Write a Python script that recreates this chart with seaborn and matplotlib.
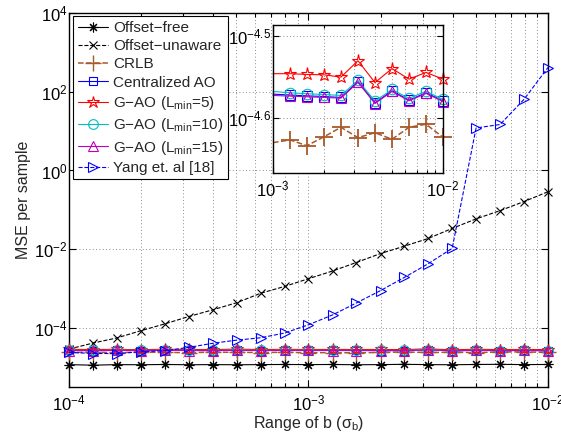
import numpy as np
import pandas as pd
import matplotlib
matplotlib.use("Agg")
import matplotlib.pyplot as plt
import matplotlib.ticker as mticker
import seaborn as sns

# ---------------- data ----------------
x_b = [1.0e-4, 1.26e-4, 1.58e-4, 2.0e-4, 2.51e-4, 3.16e-4, 3.98e-4, 5.01e-4, 6.31e-4, 7.94e-4,
       1.0e-3, 1.26e-3, 1.58e-3, 2.0e-3, 2.51e-3, 3.16e-3, 3.98e-3, 5.01e-3, 6.31e-3, 7.94e-3, 1.0e-2]

offset_free = [1.17e-5, 1.13e-5, 1.17e-5, 1.16e-5, 1.18e-5, 1.16e-5, 1.17e-5, 1.16e-5, 1.17e-5, 1.18e-5,
               1.17e-5, 1.18e-5, 1.16e-5, 1.17e-5, 1.19e-5, 1.17e-5, 1.16e-5, 1.18e-5, 1.19e-5, 1.17e-5, 1.18e-5]
offset_unaware = [2.90e-5, 4.13e-5, 5.55e-5, 8.53e-5, 1.265e-4, 1.945e-4, 2.88e-4, 4.36e-4, 7.59e-4, 1.13e-3,
                  1.78e-3, 2.79e-3, 4.57e-3, 7.76e-3, 1.19e-2, 1.87e-2, 3.37e-2, 5.89e-2, 9.55e-2, 0.162, 0.288]
crlb = [2.38e-5, 2.41e-5, 2.36e-5, 2.43e-5, 2.39e-5, 2.35e-5, 2.42e-5, 2.40e-5, 2.37e-5, 2.41e-5,
        2.344e-5, 2.362e-5, 2.324e-5, 2.383e-5, 2.447e-5, 2.377e-5, 2.410e-5, 2.366e-5, 2.447e-5, 2.468e-5, 2.379e-5]
central_ao = [2.68e-5, 2.66e-5, 2.69e-5, 2.67e-5, 2.70e-5, 2.68e-5, 2.66e-5, 2.71e-5, 2.67e-5, 2.69e-5,
              2.685e-5, 2.678e-5, 2.672e-5, 2.667e-5, 2.66e-5, 2.78e-5, 2.62e-5, 2.71e-5, 2.64e-5, 2.695e-5, 2.635e-5]
gao_5 = [2.85e-5, 2.83e-5, 2.86e-5, 2.80e-5, 2.88e-5, 2.84e-5, 2.82e-5, 2.90e-5, 2.83e-5, 2.86e-5,
         2.843e-5, 2.843e-5, 2.837e-5, 2.834e-5, 2.816e-5, 2.948e-5, 2.773e-5, 2.884e-5, 2.800e-5, 2.853e-5, 2.800e-5]
gao_10 = [2.70e-5, 2.68e-5, 2.71e-5, 2.69e-5, 2.72e-5, 2.70e-5, 2.68e-5, 2.73e-5, 2.69e-5, 2.71e-5,
          2.705e-5, 2.695e-5, 2.688e-5, 2.682e-5, 2.675e-5, 2.79e-5, 2.633e-5, 2.72e-5, 2.653e-5, 2.707e-5, 2.645e-5]
gao_15 = [2.67e-5, 2.65e-5, 2.68e-5, 2.66e-5, 2.69e-5, 2.67e-5, 2.65e-5, 2.70e-5, 2.66e-5, 2.68e-5,
          2.675e-5, 2.67e-5, 2.665e-5, 2.66e-5, 2.655e-5, 2.775e-5, 2.615e-5, 2.705e-5, 2.635e-5, 2.69e-5, 2.63e-5]
yang = [2.40e-5, 2.24e-5, 2.24e-5, 2.48e-5, 2.63e-5, 3.20e-5, 4.07e-5, 4.90e-5, 5.62e-5, 7.41e-5,
        1.20e-4, 2.14e-4, 4.27e-4, 8.91e-4, 1.91e-3, 4.27e-3, 1.05e-2, 12.0, 14.7, 64.0, 412.0]

labels = ["Offset\u2212free", "Offset\u2212unaware", "CRLB", "Centralized AO",
          "G\u2212AO (L$_{\\mathrm{min}}$=5)", "G\u2212AO (L$_{\\mathrm{min}}$=10)",
          "G\u2212AO (L$_{\\mathrm{min}}$=15)", "Yang et. al [18]"]
series = [offset_free, offset_unaware, crlb, central_ao, gao_5, gao_10, gao_15, yang]

x_ticks_main = [1e-4, 1e-3, 1e-2]
y_ticks_main = [1e-4, 1e-2, 1e0, 1e2, 1e4]
inset_yticks = [10 ** -4.5, 10 ** -4.6]
inset_ytick_labels = ["$10^{-4.5}$", "$10^{-4.6}$"]
inset_xticks = [1e-3, 1e-2]
inset_xtick_labels = ["$10^{-3}$", "$10^{-2}$"]

# ---------------- styles ----------------
brown = "#A8582A"
styles = [
    dict(color="black", ls="-", marker=(8, 2, 0), ms=7, mew=0.8, lw=0.8),
    dict(color="black", ls="--", marker="x", ms=6, mew=0.8, lw=0.8),
    dict(color=brown, ls="--", marker="+", ms=11, mew=1.0, lw=1.1),
    dict(color="#0000FF", ls="-", marker="s", ms=6, mew=0.8, lw=0.8, mfc="none"),
    dict(color="#FF0000", ls="-", marker="*", ms=9, mew=0.8, lw=0.8, mfc="none"),
    dict(color="#00BFBF", ls="-", marker="o", ms=7, mew=0.8, lw=0.8, mfc="none"),
    dict(color="#BF00BF", ls="-", marker="^", ms=7, mew=0.8, lw=0.8, mfc="none"),
    dict(color="#0000FF", ls="--", marker=">", ms=7, mew=0.8, lw=0.8, mfc="none"),
]

sns.set_theme(style="ticks")
plt.rcParams["font.family"] = ["Liberation Sans", "DejaVu Sans"]
plt.rcParams["mathtext.fontset"] = "custom"
plt.rcParams["mathtext.rm"] = "Liberation Sans"
plt.rcParams["mathtext.it"] = "Liberation Sans:italic"
plt.rcParams["mathtext.default"] = "regular"

FS_TICK = 12
FS_LEG = 11
FS_LAB = 11.5

fig = plt.figure(figsize=(5.61, 4.40), dpi=100)
ax = fig.add_axes([0.123, 0.1205, 0.8538, 0.85])

for lab, ys, st in zip(labels, series, styles):
    df = pd.DataFrame({"x": x_b, "y": ys})
    sns.lineplot(data=df, x="x", y="y", ax=ax, label=lab, color=st["color"],
                 linestyle=st["ls"], marker=st["marker"], markersize=st["ms"],
                 markeredgewidth=st["mew"], linewidth=st["lw"],
                 markerfacecolor=st.get("mfc", st["color"]),
                 markeredgecolor=st["color"], clip_on=False, zorder=3)

ax.set_xscale("log")
ax.set_yscale("log")
ax.set_xlim(1e-4, 1e-2)
ax.set_ylim(10 ** -5.5, 1e4)
ax.set_xticks(x_ticks_main)
ax.set_yticks(y_ticks_main)
ax.yaxis.set_minor_locator(mticker.NullLocator())
ax.xaxis.set_minor_locator(mticker.LogLocator(base=10, subs=np.arange(2, 10)))
ax.xaxis.set_minor_formatter(mticker.NullFormatter())
ax.grid(True, which="major", axis="y", color="0.4", ls=(0, (1, 3)), lw=0.6)
ax.grid(True, which="both", axis="x", color="0.4", ls=(0, (1, 3)), lw=0.6)
ax.tick_params(which="both", direction="in", top=True, right=True, labelsize=FS_TICK,
               colors="black", width=0.8)
ax.tick_params(which="major", length=5)
ax.tick_params(which="minor", length=3)
ax.tick_params(axis="x", pad=5)
ax.tick_params(axis="y", pad=1)
for s in ax.spines.values():
    s.set_color("black")
    s.set_linewidth(1.0)
ax.set_xlabel("Range of b (\u03c3$_{\\mathrm{b}}$)", fontsize=FS_LAB, labelpad=0)
ax.set_ylabel("MSE per sample", fontsize=FS_LAB, labelpad=2)

leg = ax.legend(loc="upper left", bbox_to_anchor=(0.009, 0.991), fontsize=FS_LEG,
                frameon=True, fancybox=False, framealpha=1, edgecolor="black",
                handlelength=2.0, handletextpad=0.3, labelspacing=0.28,
                borderpad=0.3, borderaxespad=0.0)
leg.get_frame().set_linewidth(0.8)
leg.set_zorder(10)

# ---------------- inset ----------------
axin = fig.add_axes([0.4866, 0.6068, 0.3031, 0.3364])
axin.set_facecolor("white")
axin.set_zorder(5)
for idx in [2, 3, 4, 5, 6]:
    st = styles[idx]
    df = pd.DataFrame({"x": x_b[10:], "y": series[idx][10:]})
    sns.lineplot(data=df, x="x", y="y", ax=axin, color=st["color"],
                 linestyle=st["ls"], marker=st["marker"],
                 markersize=st["ms"] + (2 if idx == 2 else 0.5),
                 markeredgewidth=st["mew"] + (0.3 if idx == 2 else 0), linewidth=st["lw"],
                 markerfacecolor=st.get("mfc", st["color"]),
                 markeredgecolor=st["color"], markevery=list(range(1, 11)),
                 clip_on=False, legend=False)
axin.set_xscale("log")
axin.set_yscale("log")
axin.set_xlim(1e-3, 1e-2)
axin.set_ylim(10 ** -4.667, 10 ** -4.487)
axin.set_xticks(inset_xticks)
axin.set_xticklabels(inset_xtick_labels)
axin.set_yticks(inset_yticks)
axin.set_yticklabels(inset_ytick_labels)
axin.yaxis.set_minor_locator(mticker.NullLocator())
axin.xaxis.set_minor_locator(mticker.LogLocator(base=10, subs=np.arange(2, 10)))
axin.xaxis.set_minor_formatter(mticker.NullFormatter())
axin.grid(True, which="major", axis="y", color="0.4", ls=(0, (1, 3)), lw=0.6)
axin.grid(True, which="both", axis="x", color="0.4", ls=(0, (1, 3)), lw=0.6)
axin.tick_params(which="both", direction="in", top=True, right=True, labelsize=FS_TICK,
                 colors="black", width=0.8)
axin.tick_params(which="major", length=4)
axin.tick_params(which="minor", length=2)
axin.tick_params(axis="x", pad=5)
axin.tick_params(axis="y", pad=1)
axin.set_xlabel("")
axin.set_ylabel("")
for s in axin.spines.values():
    s.set_color("black")
    s.set_linewidth(1.0)

fig.savefig("out.png", dpi=100)
